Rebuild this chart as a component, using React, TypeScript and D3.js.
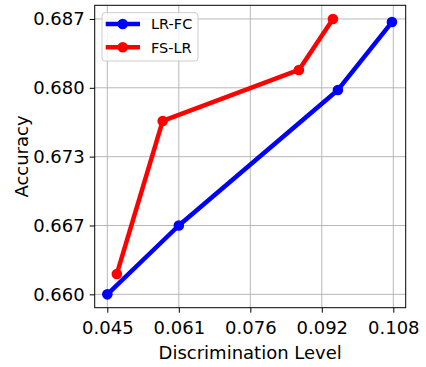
import * as React from 'react';
import { useEffect, useRef } from 'react';
import * as d3 from 'd3';

const seriesNames = ['LR-FC', 'FS-LR'];
const seriesColors = ['#0000ff', '#ff0000'];
const lrfcX = [0.045, 0.06075, 0.0958, 0.1077];
const lrfcY = [0.660, 0.66675, 0.68004, 0.6867];
const fslrX = [0.0471, 0.0572, 0.0872, 0.0947];
const fslrY = [0.6620, 0.6770, 0.6820, 0.6870];

const xTickValues = [0.045, 0.06075, 0.0765, 0.09225, 0.108];
const xTickLabels = ['0.045', '0.061', '0.076', '0.092', '0.108'];
const yTickValues = [0.660, 0.66675, 0.6735, 0.68025, 0.687];
const yTickLabels = ['0.660', '0.667', '0.673', '0.680', '0.687'];

const W = 426, H = 367;
const left = 94.7, right = 405.7, top = 5.3, bottom = 307.7;
const FONT = "'DejaVu Sans', sans-serif";

export default function App() {
  const ref = useRef<SVGSVGElement | null>(null);

  useEffect(() => {
    if (!ref.current) return;
    const svg = d3.select(ref.current);
    svg.selectAll('*').remove();

    const x = d3.scaleLinear().domain([0.04222, 0.11073]).range([left, right]);
    const y = d3.scaleLinear().domain([0.65869, 0.68834]).range([bottom, top]);

    svg.append('rect').attr('x', 0).attr('y', 0).attr('width', W).attr('height', H).attr('fill', '#fff');

    // grid
    const grid = svg.append('g').attr('stroke', '#b0b0b0').attr('stroke-width', 0.9);
    xTickValues.forEach(v => {
      grid.append('line').attr('x1', x(v)).attr('x2', x(v)).attr('y1', top).attr('y2', bottom);
    });
    yTickValues.forEach(v => {
      grid.append('line').attr('x1', left).attr('x2', right).attr('y1', y(v)).attr('y2', y(v));
    });

    // axes
    const xAxis = d3.axisBottom(x).tickValues(xTickValues).tickSize(5).tickPadding(5)
      .tickFormat((_, i) => xTickLabels[i]);
    const yAxis = d3.axisLeft(y).tickValues(yTickValues).tickSize(5).tickPadding(5)
      .tickFormat((_, i) => yTickLabels[i]);

    const gx = svg.append('g').attr('transform', `translate(0,${bottom})`).call(xAxis);
    const gy = svg.append('g').attr('transform', `translate(${left},0)`).call(yAxis);
    [gx, gy].forEach(g => {
      g.select('.domain').remove();
      g.selectAll('line').attr('stroke', '#000').attr('stroke-width', 1);
      g.selectAll('text').attr('font-family', FONT).attr('font-size', 18).attr('fill', '#000');
    });
    gx.selectAll('text').attr('dy', '0.92em');

    // series
    const line = d3.line<[number, number]>().x(d => x(d[0])).y(d => y(d[1]));
    const series: [number, number][][] = [
      lrfcX.map((v, i) => [v, lrfcY[i]] as [number, number]),
      fslrX.map((v, i) => [v, fslrY[i]] as [number, number]),
    ];
    series.forEach((pts, s) => {
      svg.append('path').attr('d', line(pts)).attr('fill', 'none')
        .attr('stroke', seriesColors[s]).attr('stroke-width', 4.5).attr('stroke-linejoin', 'round');
      svg.selectAll(null).data(pts).enter().append('circle')
        .attr('cx', d => x(d[0])).attr('cy', d => y(d[1])).attr('r', 5.3)
        .attr('fill', seriesColors[s]);
    });

    // frame
    svg.append('rect').attr('x', left).attr('y', top).attr('width', right - left).attr('height', bottom - top)
      .attr('fill', 'none').attr('stroke', '#000').attr('stroke-width', 1);

    // legend
    const lg = svg.append('g');
    lg.append('rect').attr('x', 102).attr('y', 12.7).attr('width', 96).attr('height', 48.3)
      .attr('rx', 3).attr('fill', '#fff').attr('fill-opacity', 0.8).attr('stroke', '#cccccc');
    seriesNames.forEach((name, i) => {
      const cy = 24 + i * 23.3;
      lg.append('line').attr('x1', 105.7).attr('x2', 140).attr('y1', cy).attr('y2', cy)
        .attr('stroke', seriesColors[i]).attr('stroke-width', 4.5);
      lg.append('circle').attr('cx', 122.7).attr('cy', cy).attr('r', 5.3).attr('fill', seriesColors[i]);
      lg.append('text').attr('x', 151).attr('y', cy).attr('dy', '0.36em')
        .attr('font-family', FONT).attr('font-size', 14.5).text(name);
    });

    // axis labels
    svg.append('text').attr('x', (left + right) / 2).attr('y', 359.3).attr('text-anchor', 'middle')
      .attr('font-family', FONT).attr('font-size', 18).text('Discrimination Level');
    svg.append('text').attr('transform', `translate(28,${(top + bottom) / 2}) rotate(-90)`)
      .attr('text-anchor', 'middle').attr('font-family', FONT).attr('font-size', 18).text('Accuracy');
  }, []);

  return (
    <svg ref={ref} width={W} height={H}
      style={{ position: 'absolute', left: 0, top: 0, display: 'block' }} />
  );
}
